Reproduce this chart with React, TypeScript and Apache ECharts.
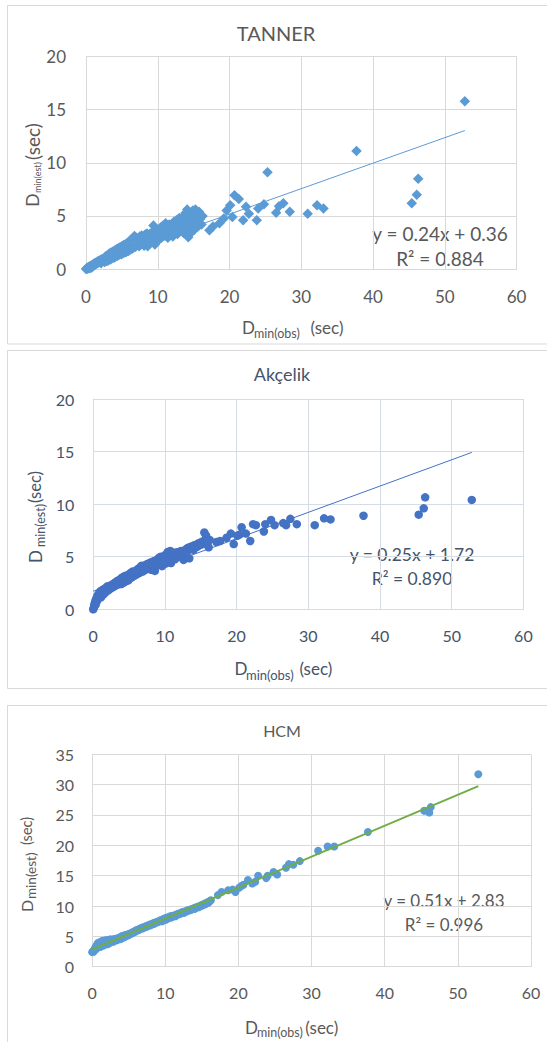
import React, { useEffect, useRef } from 'react';
import * as echarts from 'echarts';

// ---------- DATA ----------
const panelTitles = ['TANNER', 'Akçelik', 'HCM'];
const xTicksMax = 60;
const yTicksMax = [20, 20, 35];
const trendSlopes = [0.24, 0.25, 0.51];
const trendIntercepts = [0.36, 1.72, 2.83];
const r2Labels = ['0.884', '0.890', '0.996'];

// observed minimum delay (sec)
const obsTimes = [
  52.8, 46.3, 46.1, 45.4, 37.7, 33.1, 32.2, 30.9, 28.4, 27.5,
  26.9, 26.5, 25.3, 24.8, 24.0, 23.8, 22.7, 22.3, 21.9, 21.3,
  20.7, 20.4, 20.1, 19.6, 19.2, 18.6, 17.7, 17.2,
  0.0, 0.1, 0.15, 0.2, 0.3, 0.35, 0.4, 0.5, 0.55, 0.6,
  0.7, 0.75, 0.8, 0.9, 1.0, 1.05, 1.1, 1.2, 1.3, 1.4,
  1.5, 1.6, 1.7, 1.8, 1.9, 2.0, 2.1, 2.2, 2.35, 2.5,
  2.6, 2.75, 2.9, 3.0, 3.1, 3.25, 3.4, 3.5, 3.6, 3.75,
  3.9, 4.0, 4.1, 4.25, 4.4, 4.5, 4.6, 4.75, 4.9, 5.0,
  5.1, 5.25, 5.4, 5.5, 5.6, 5.75, 5.9, 6.0, 6.1, 6.25,
  6.4, 6.5, 6.6, 6.75, 6.9, 7.0, 7.1, 7.25, 7.4, 7.5,
  7.6, 7.75, 7.9, 8.0, 8.1, 8.25, 8.4, 8.5, 8.6, 8.75,
  8.9, 9.0, 9.1, 9.25, 9.4, 9.5, 9.6, 9.75, 9.9, 10.0,
  10.1, 10.25, 10.4, 10.5, 10.6, 10.75, 10.85, 11.0, 11.1, 11.25,
  11.4, 11.5, 11.6, 11.75, 11.9, 12.0, 12.1, 12.25, 12.4, 12.5,
  12.6, 12.75, 12.9, 13.0, 13.1, 13.25, 13.4, 13.5, 13.6, 13.75,
  13.9, 14.0, 14.1, 14.25, 14.4, 14.5, 14.6, 14.75, 14.9, 15.0,
  15.1, 15.25, 15.4, 15.5, 15.6, 15.75, 15.9, 16.0, 16.1, 16.25,
];

// TANNER estimate (sec)
const tannerEst = [
  15.8, 8.5, 7.0, 6.2, 11.1, 5.7, 6.0, 5.2, 5.4, 6.2,
  5.9, 5.3, 9.1, 6.1, 5.7, 4.6, 5.2, 5.85, 4.6, 6.6,
  6.95, 4.9, 6.0, 5.5, 4.75, 4.3, 4.0, 3.65,
  0.00, 0.05, 0.10, 0.02, 0.12, 0.20, 0.08, 0.18, 0.25, 0.10,
  0.30, 0.22, 0.15, 0.40, 0.28, 0.48, 0.35, 0.55, 0.42, 0.62,
  0.50, 0.70, 0.58, 0.78, 0.66, 0.85, 0.55, 0.92, 0.75, 1.00,
  0.65, 1.20, 0.75, 1.30, 0.80, 1.45, 0.90, 1.55, 1.00, 1.65,
  1.05, 1.75, 1.15, 1.85, 1.25, 1.95, 1.35, 2.05, 1.40, 2.15,
  1.45, 2.25, 1.55, 2.30, 1.60, 2.45, 1.70, 2.60, 1.80, 2.75,
  1.90, 2.85, 2.00, 3.10, 2.10, 2.95, 2.25, 2.80, 2.15, 3.05,
  2.30, 3.15, 2.35, 3.00, 2.20, 3.25, 2.45, 3.35, 2.15, 3.05,
  3.30, 2.60, 3.40, 2.80, 4.10, 3.00, 2.30, 3.50, 3.15, 3.70,
  2.70, 3.30, 3.90, 2.95, 3.55, 4.10, 3.10, 3.75, 4.30, 3.40,
  2.95, 3.85, 4.20, 3.20, 3.60, 4.00, 3.05, 4.45, 3.50, 3.90,
  4.60, 3.30, 4.20, 4.80, 3.60, 4.40, 3.80, 4.95, 3.40, 4.60,
  5.30, 3.90, 5.60, 3.00, 4.70, 5.20, 3.40, 4.30, 5.50, 4.90,
  3.70, 5.60, 4.50, 5.20, 4.00, 5.40, 4.70, 4.95, 4.20, 5.00,
];

// Akçelik estimate (sec)
const akcelikEst = [
  10.4, 10.65, 9.6, 9.0, 8.9, 8.55, 8.65, 8.0, 8.1, 8.6,
  8.0, 8.2, 8.0, 8.5, 8.1, 7.4, 8.0, 8.1, 6.5, 7.2,
  7.8, 7.1, 7.0, 6.2, 7.2, 6.8, 6.5, 6.4,
  0.00, 0.15, 0.35, 0.55, 0.75, 0.45, 0.95, 1.10, 0.80, 1.30,
  1.05, 1.45, 1.20, 1.60, 1.35, 1.75, 1.15, 1.55, 1.85, 1.40,
  1.70, 1.95, 1.60, 2.05, 1.75, 2.20, 1.80, 2.10, 1.95, 2.30,
  2.05, 2.40, 2.15, 2.50, 2.25, 2.65, 2.35, 2.75, 2.40, 2.85,
  2.40, 3.00, 2.50, 3.10, 2.60, 3.20, 2.70, 3.15, 2.75, 3.35,
  2.95, 3.45, 3.05, 3.60, 3.15, 3.55, 3.25, 3.70, 3.35, 3.85,
  3.45, 3.95, 3.55, 4.15, 3.60, 4.05, 3.70, 4.20, 3.80, 4.30,
  3.95, 4.35, 4.00, 4.45, 3.75, 4.50, 4.10, 4.60, 3.65, 4.30,
  4.70, 4.20, 4.85, 4.40, 5.00, 4.55, 4.10, 4.90, 4.65, 5.15,
  4.35, 4.95, 5.45, 4.60, 5.05, 5.55, 4.40, 5.20, 5.35, 4.90,
  4.75, 5.40, 5.10, 5.25, 5.45, 5.30, 5.00, 5.55, 5.20, 5.50,
  4.70, 5.60, 5.35, 5.75, 5.50, 5.85, 4.85, 5.70, 5.95, 5.80,
  6.00, 5.65, 6.10, 5.90, 6.15, 5.95, 6.25, 6.05, 6.30, 6.15,
  6.40, 6.20, 6.50, 7.30, 6.35, 7.00, 6.55, 6.45, 5.90, 6.60,
];

// HCM estimate (sec)
const hcmEst = [
  31.7, 26.3, 25.4, 25.7, 22.2, 19.8, 19.8, 19.1, 17.4, 16.8,
  16.9, 16.3, 15.2, 15.6, 15.0, 14.6, 15.0, 14.0, 13.7, 14.3,
  13.5, 13.3, 13.0, 12.3, 12.7, 12.6, 12.3, 11.8,
  2.40, 2.50, 2.60, 2.45, 2.70, 2.90, 3.10, 2.85, 3.40, 3.05,
  3.70, 3.20, 3.90, 3.35, 4.00, 3.50, 3.25, 4.10, 3.60, 4.25,
  3.45, 3.80, 4.30, 3.65, 4.00, 4.40, 3.70, 4.15, 3.85, 4.50,
  4.05, 4.35, 4.10, 4.55, 4.30, 4.60, 4.35, 4.70, 4.50, 4.80,
  4.55, 5.00, 4.70, 5.10, 4.85, 5.20, 5.00, 5.25, 5.15, 5.40,
  5.30, 5.50, 5.45, 5.65, 5.60, 5.80, 5.75, 6.00, 5.90, 6.10,
  6.05, 6.25, 6.20, 6.40, 6.30, 6.50, 6.45, 6.60, 6.55, 6.75,
  6.70, 6.85, 6.80, 7.00, 6.90, 7.10, 7.05, 7.25, 7.15, 7.35,
  7.30, 7.45, 7.40, 7.55, 7.70, 7.60, 7.50, 7.85, 7.80, 8.00,
  7.75, 8.05, 8.15, 8.00, 8.25, 8.30, 8.10, 8.40, 8.35, 8.45,
  8.30, 8.60, 8.55, 8.70, 8.65, 8.80, 8.75, 8.95, 8.85, 9.05,
  8.90, 9.10, 9.15, 9.25, 9.20, 9.35, 9.30, 9.45, 9.40, 9.55,
  9.60, 9.50, 9.75, 9.70, 9.85, 9.90, 9.80, 10.00, 10.10, 10.05,
  10.20, 10.30, 10.25, 10.45, 10.40, 10.60, 10.55, 10.75, 10.80, 10.95,
];

const estSeries = [tannerEst, akcelikEst, hcmEst];

// ---------- LAYOUT / STYLE ----------
const FONT = 'Lato, "Open Sans", sans-serif';
const layout = [
  {
    grid: { left: 86, top: 56.5, width: 430.5, height: 212.5 },
    box: { y: 5.5, h: 338.5 },
    title: { x: 276, y: 33, size: 20 },
    textColor: '#595959', axisColor: '#D9D9D9',
    tick: 17, xMargin: 19, yMargin: 20,
    symbol: 'diamond', symbolSize: 10.5, color: '#5B9BD5',
    lineColor: '#5B9BD5', lineWidth: 1,
    xName: { d: [242, 327], s: [254, 333], p: [310.5, 327], dSize: 17, sSize: 12.5, pSize: 17 },
    yName: { org: [32, 207], s: 14, p: 47, sOff: 5, dSize: 18, sSize: 9, pSize: 19 },
    eq: { x: 440, y: 233, y2: 258, size: 19 },
  },
  {
    grid: { left: 93.2, top: 399, width: 430.2, height: 210.3 },
    box: { y: 350.5, h: 338 },
    title: { x: 282, y: 374, size: 18 },
    textColor: '#44546A', axisColor: '#D6DCE5',
    tick: 16, xMargin: 18, yMargin: 19,
    symbol: 'circle', symbolSize: 8.5, color: '#4472C4',
    lineColor: '#4472C4', lineWidth: 1,
    xName: { d: [234.5, 668], s: [246, 675], p: [299.4, 668], dSize: 17, sSize: 13, pSize: 17 },
    yName: { org: [35, 563], s: 16, p: 60, sOff: 5, dSize: 17, sSize: 12.5, pSize: 16.5 },
    eq: { x: 412, y: 554, y2: 578, size: 17.5 },
  },
  {
    grid: { left: 92.1, top: 754.3, width: 438.9, height: 212.4 },
    box: { y: 705.5, h: 400 },
    title: { x: 282, y: 730, size: 16 },
    textColor: '#595959', axisColor: '#D9D9D9',
    tick: 16, xMargin: 18, yMargin: 18,
    symbol: 'circle', symbolSize: 8, color: '#5B9BD5',
    lineColor: '#70AD47', lineWidth: 2,
    xName: { d: [245, 1027], s: [257, 1032], p: [305.3, 1027], dSize: 17, sSize: 12.5, pSize: 17 },
    yName: { org: [26, 912], s: 13, p: 67, sOff: 5, dSize: 16, sSize: 13.5, pSize: 14.5 },
    eq: { x: 444, y: 900, y2: 924, size: 17 },
  },
];

function txt(text: string, x: number, y: number, size: number, fill: string, align = 'center') {
  return {
    type: 'text', x, y, silent: true,
    style: {
      text, fill, fontSize: size, fontFamily: FONT,
      align, verticalAlign: 'middle', textAlign: align, textVerticalAlign: 'middle',
    },
  };
}

function buildOption() {
  const maxObs = Math.max(...obsTimes);
  const grids: any[] = [];
  const xAxes: any[] = [];
  const yAxes: any[] = [];
  const series: any[] = [];
  const graphics: any[] = [];

  layout.forEach((L, i) => {
    grids.push({ ...L.grid, containLabel: false });
    xAxes.push({
      type: 'value', gridIndex: i, min: 0, max: xTicksMax, interval: 10,
      axisLine: { show: true, lineStyle: { color: L.axisColor, width: 1 } },
      axisTick: { show: false },
      splitLine: { show: true, lineStyle: { color: L.axisColor, width: 1 } },
      axisLabel: { color: L.textColor, fontSize: L.tick, fontFamily: FONT, margin: L.xMargin },
    });
    yAxes.push({
      type: 'value', gridIndex: i, min: 0, max: yTicksMax[i], interval: 5,
      axisLine: { show: true, lineStyle: { color: L.axisColor, width: 1 } },
      axisTick: { show: false },
      splitLine: { show: true, lineStyle: { color: L.axisColor, width: 1 } },
      axisLabel: { color: L.textColor, fontSize: L.tick, fontFamily: FONT, margin: L.yMargin },
    });
    const est = estSeries[i];
    series.push({
      type: 'scatter', xAxisIndex: i, yAxisIndex: i,
      symbol: L.symbol, symbolSize: L.symbolSize,
      itemStyle: { color: L.color, opacity: 1 },
      data: obsTimes.map((x, k) => [x, est[k]]),
      z: 2, silent: true,
    });
    series.push({
      type: 'line', xAxisIndex: i, yAxisIndex: i,
      symbol: 'none', showSymbol: false,
      lineStyle: { color: L.lineColor, width: L.lineWidth },
      data: [
        [0, trendIntercepts[i]],
        [maxObs, trendSlopes[i] * maxObs + trendIntercepts[i]],
      ],
      z: 3, silent: true,
    });

    // panel border
    graphics.push({
      type: 'rect', silent: true, z: -1,
      shape: { x: 7.5, y: L.box.y, width: 600, height: L.box.h },
      style: { fill: 'none', stroke: '#D9D9D9', lineWidth: 1 },
    });
    // title
    graphics.push(txt(panelTitles[i], L.title.x, L.title.y, L.title.size, L.textColor));
    // x axis name
    graphics.push(txt('D', L.xName.d[0], L.xName.d[1], L.xName.dSize, L.textColor, 'left'));
    graphics.push(txt('min(obs)', L.xName.s[0], L.xName.s[1], L.xName.sSize, L.textColor, 'left'));
    graphics.push(txt('(sec)', L.xName.p[0], L.xName.p[1], L.xName.pSize, L.textColor, 'left'));
    // y axis name (rotated)
    graphics.push({
      type: 'group', x: L.yName.org[0], y: L.yName.org[1], rotation: Math.PI / 2, silent: true,
      children: [
        txt('D', 0, 0, L.yName.dSize, L.textColor, 'left'),
        txt('min(est)', L.yName.s, L.yName.sOff, L.yName.sSize, L.textColor, 'left'),
        txt('(sec)', L.yName.p, 0, L.yName.pSize, L.textColor, 'left'),
      ],
    });
    // equation and R²
    const sign = trendIntercepts[i] >= 0 ? '+' : '-';
    graphics.push(txt(
      `y = ${trendSlopes[i].toFixed(2)}x ${sign} ${Math.abs(trendIntercepts[i]).toFixed(2)}`,
      L.eq.x, L.eq.y, L.eq.size, L.textColor));
    graphics.push(txt(`R² = ${r2Labels[i]}`, L.eq.x, L.eq.y2, L.eq.size, L.textColor));
  });

  return {
    animation: false,
    backgroundColor: '#ffffff',
    textStyle: { fontFamily: FONT },
    grid: grids,
    xAxis: xAxes,
    yAxis: yAxes,
    series,
    graphic: { elements: graphics },
  };
}

export default function App() {
  const ref = useRef<HTMLDivElement>(null);
  useEffect(() => {
    if (!ref.current) return;
    const chart = echarts.init(ref.current, null, { renderer: 'svg' });
    chart.setOption(buildOption() as any);
    return () => chart.dispose();
  }, []);
  return (
    <div
      ref={ref}
      style={{ position: 'absolute', left: 0, top: 0, width: 547, height: 1042, background: '#fff' }}
    />
  );
}
